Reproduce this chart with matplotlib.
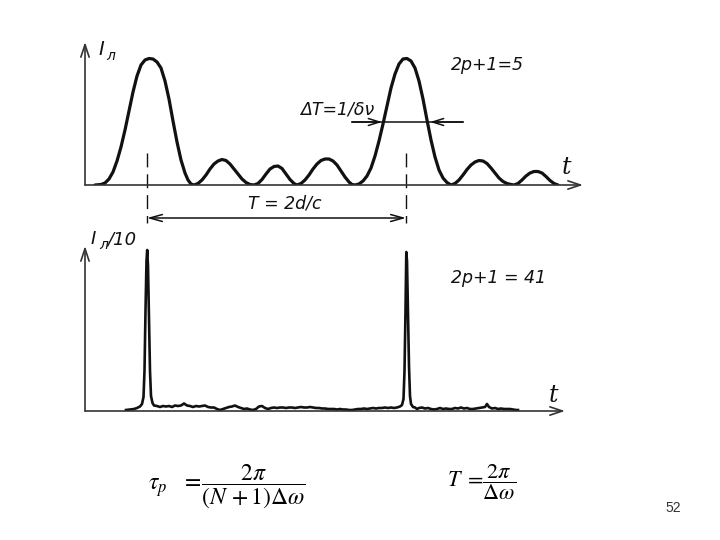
import numpy as np
import matplotlib.pyplot as plt

plt.rcParams['mathtext.fontset'] = 'stix'

# top trace, 2p+1 = 5 (t in picture units from the I axis, I in picture units)
t_top = [10, 16, 20, 24, 28, 32, 36, 40, 44, 48, 52, 56, 60, 64, 68, 72, 76, 80, 84, 88, 92, 96, 100, 103, 106, 109,
         113, 117, 121, 125, 129, 133, 137, 141, 145, 149, 153, 157, 161, 165, 169,
         173, 177, 181, 185, 189, 193, 197, 201, 205, 209, 212,
         216, 220, 224, 228, 232, 236, 240, 244, 248, 252, 256, 260, 264, 267, 270,
         274, 278, 282, 286, 290, 294, 298, 302, 306, 310, 314, 318, 322, 326, 330, 334, 338, 342, 346, 350, 354, 358, 362, 366,
         370, 374, 378, 382, 386, 390, 394, 398, 402, 406, 410, 414, 418, 422, 426, 429,
         433, 437, 441, 445, 449, 453, 457, 461, 465, 469, 473]
i_top = [0, 0.5, 2, 6, 13, 24, 38, 55, 74, 93, 109, 120, 125, 126.5, 126, 123, 117, 104, 86, 64, 43, 25, 12, 5, 1, 0,
         1.5, 5, 10, 16, 21, 24, 25.5, 24.5, 21, 16, 11, 6, 2.5, 0.5, 0,
         1.5, 5.5, 11, 16, 18.5, 19, 16.5, 11, 5.5, 1.5, 0,
         1.5, 5, 10, 16, 21, 24.5, 26, 26, 24, 20, 14, 8, 3, 0.5, 0,
         1, 4, 9, 17, 29, 44, 61, 79, 97, 111, 121, 126, 126.5, 124, 117, 104, 86, 65, 45, 28, 15, 7, 2.5, 0,
         1.5, 5, 10, 15.5, 20, 23, 24.5, 24, 21.5, 17, 12, 7, 3.5, 1.5, 0.5, 0,
         1.5, 5, 9, 12, 13.5, 13.5, 12, 8.5, 4.5, 1.5, 0]

# bottom trace, 2p+1 = 41
t_low = [41, 45, 49, 52, 55, 57, 58.5, 59.5, 60.5, 61.5, 62.2, 63, 64, 65, 66, 67.5, 69,
         72, 75, 78, 81, 84, 87, 90, 93, 96, 99,
         102, 105, 108, 111, 114, 117, 120, 123, 126, 129,
         132, 135, 138, 141, 144, 147, 150, 153, 156, 159,
         162, 165, 168, 171, 174, 177, 180, 183, 186, 189,
         192, 195, 198, 201, 204, 207, 210, 213, 216, 219,
         222, 225, 228, 231, 234, 237, 240, 243, 246, 249,
         252, 255, 258, 261, 264, 267, 270, 273, 276, 279,
         282, 285, 288, 291, 294, 297, 300, 303, 306, 309,
         312, 315,
         317, 318.5, 319.5, 320.5, 321.3, 322, 323, 324, 325, 326, 328,
         330, 332, 334, 337, 340, 343, 346, 349, 352, 355, 358, 361, 364, 367, 370, 373, 376, 379,
         382, 385, 388, 391, 394, 397, 400, 402, 404, 407, 410, 413, 416, 419, 422, 425, 428, 431, 433]
i_low = [1, 1.5, 2, 3, 4.5, 7, 14, 40, 100, 150, 161, 145, 95, 40, 15, 8, 5.5,
         5, 4, 5, 4.5, 5, 4, 5.5, 5, 5.5, 7.5,
         5.5, 5, 4, 5, 4.5, 5, 5.5, 4, 3.5, 3.5,
         2, 1, 2, 3, 4, 4.5, 5.5, 4, 3, 2,
         2.5, 1.5, 1, 2, 4.5, 5, 3, 2, 3, 3.5,
         3, 3.5, 3.5, 3, 3.5, 3.5, 3, 3.5, 4, 3.5,
         3.5, 4, 3.5, 3, 3, 2.5, 2.5, 2, 2, 2,
         1.5, 2, 1.5, 1.5, 1, 1, 1.5, 2, 2, 2.5,
         2, 2.5, 3, 2.5, 3, 3, 3.5, 3, 3.5, 3,
         3.5, 4.5,
         6, 12, 40, 100, 159, 150, 100, 45, 15, 7, 4,
         3.5, 2, 3, 3.5, 2.5, 3, 2, 1.5, 2, 3, 2, 2.5, 2, 2, 3, 2.5, 3.5, 2.5,
         3, 2, 2, 2.5, 3, 3.5, 4, 7, 4, 2.5, 3, 2, 2.5, 2, 2, 2, 1.5, 1, 1]

pulse_t = [62, 321]  # the two pulse centres

ink = '#111111'
axis_ink = '#333333'

fig = plt.figure(figsize=(7.2, 5.4), dpi=100)
ax1 = fig.add_axes([85 / 720, 355 / 540, 520 / 720, 145 / 540])
ax2 = fig.add_axes([85 / 720, 129 / 540, 520 / 720, 175 / 540])
ax1.set_xlim(0, 520)
ax1.set_ylim(0, 145)
ax2.set_xlim(0, 520)
ax2.set_ylim(0, 175)
for ax in (ax1, ax2):
    ax.axis('off')

arrow_axis = dict(arrowstyle='->,head_length=0.9,head_width=0.3', lw=1.2, color=axis_ink,
                  shrinkA=0, shrinkB=0)

# top panel
ax1.annotate('', xy=(0, 143), xytext=(0, 0), arrowprops=arrow_axis, annotation_clip=False)
ax1.annotate('', xy=(498, 0), xytext=(0, 0), arrowprops=arrow_axis, annotation_clip=False)
ax1.plot(t_top, i_top, color=ink, lw=2.3, solid_joinstyle='round', solid_capstyle='round')
ax1.text(13, 135, 'I', fontsize=14, style='italic', color=ink, ha='left', va='center')
ax1.text(21, 129, 'л', fontsize=10, style='italic', color=ink, ha='left', va='center')
ax1.text(366, 120, '2p+1=5', fontsize=12.5, style='italic', color=ink, ha='left', va='center')
ax1.text(481, 18, 't', fontsize=17, family='DejaVu Serif', style='italic', color=ink,
         ha='center', va='center')

# ΔT marker across the second pulse
ax1.plot([267, 378], [63, 63], color=ink, lw=1.1, clip_on=False)
small_arrow = dict(arrowstyle='->,head_length=0.8,head_width=0.25', lw=1.1, color=ink,
                   shrinkA=0, shrinkB=0)
ax1.annotate('', xy=(297, 63), xytext=(267, 63), arrowprops=small_arrow, annotation_clip=False)
ax1.annotate('', xy=(345, 63), xytext=(378, 63), arrowprops=small_arrow, annotation_clip=False)
ax1.text(215, 75, r'ΔT=1/δν', fontsize=12.5, style='italic', color=ink, ha='left', va='center')

# period marker
for tp in pulse_t:
    ax1.plot([tp, tp], [32, -38], color=ink, lw=1.0, dashes=(10, 5), clip_on=False)
ax1.annotate('', xy=(pulse_t[1], -33), xytext=(pulse_t[0], -33),
             arrowprops=dict(arrowstyle='<->,head_length=0.9,head_width=0.25', lw=1.1, color=ink,
                             shrinkA=0, shrinkB=0), annotation_clip=False)
ax1.text(163, -18, 'T = 2d/c', fontsize=12.5, style='italic', color=ink, ha='left', va='center')

# bottom panel
ax2.annotate('', xy=(0, 165), xytext=(0, 0), arrowprops=arrow_axis, annotation_clip=False)
ax2.annotate('', xy=(480, 0), xytext=(0, 0), arrowprops=arrow_axis, annotation_clip=False)
ax2.plot(t_low, i_low, color=ink, lw=1.9, solid_joinstyle='round')
ax2.text(6, 172, 'I', fontsize=13, style='italic', color=ink, ha='left', va='center')
ax2.text(14, 166, 'л', fontsize=10, style='italic', color=ink, ha='left', va='center')
ax2.text(22, 172, '/10', fontsize=13, style='italic', color=ink, ha='left', va='center')
ax2.text(366, 133, '2p+1 = 41', fontsize=12.5, style='italic', color=ink, ha='left', va='center')
ax2.text(468, 16, 't', fontsize=17, family='DejaVu Serif', style='italic', color=ink,
         ha='center', va='center')

# formulas
fig.text(148 / 720, 1 - 486 / 540, r'$\tau_{p}\;\;\;=\!\dfrac{2\pi}{(N\,+1)\Delta\omega}$',
         fontsize=17, ha='left', va='center', color='black')
fig.text(447 / 720, 1 - 482 / 540, r'$T\;=\!\dfrac{2\pi}{\Delta\omega}$',
         fontsize=16, ha='left', va='center', color='black')
fig.text(673 / 720, 1 - 508 / 540, '52', fontsize=10, family='Liberation Sans',
         ha='center', va='center', color='#333333')

fig.savefig('out.png', dpi=100)
